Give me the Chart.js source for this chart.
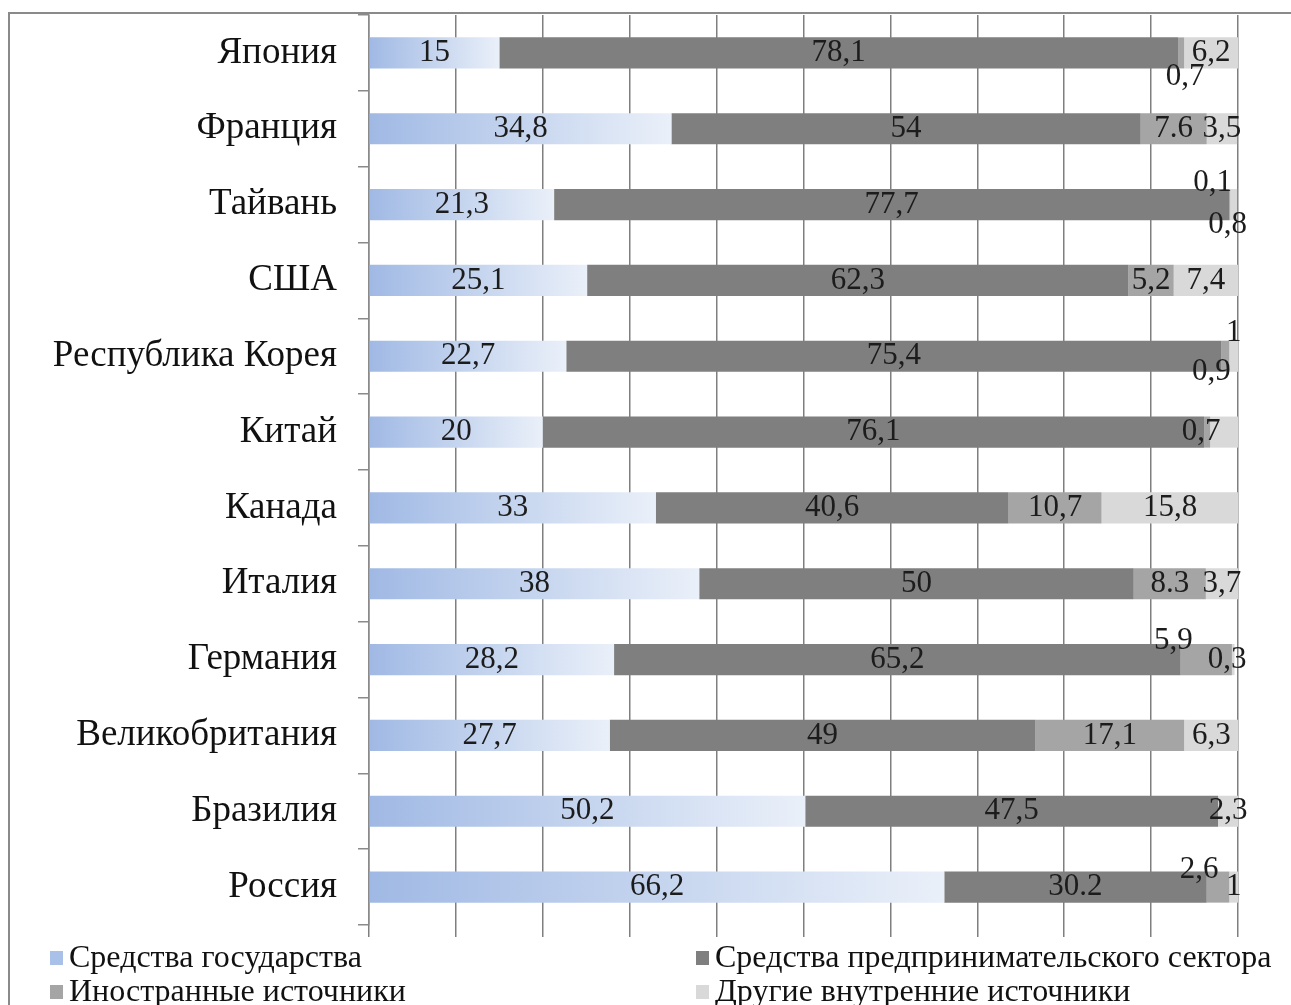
<!DOCTYPE html>
<html>
<head>
<meta charset="utf-8">
<script src="https://cdn.jsdelivr.net/npm/chart.js"></script>
<style>
  html, body { margin: 0; padding: 0; background: #fff; }
  canvas { display: block; }
</style>
</head>
<body>
<canvas id="chart" width="1291" height="1005"></canvas>
<script>
// данные, % от внутренних затрат на ИР
const categories = ["Япония", "Франция", "Тайвань", "США", "Республика Корея", "Китай",
    "Канада", "Италия", "Германия", "Великобритания", "Бразилия", "Россия"];
const govFunds = [15, 34.8, 21.3, 25.1, 22.7, 20, 33, 38, 28.2, 27.7, 50.2, 66.2];
const businessFunds = [78.1, 54, 77.7, 62.3, 75.4, 76.1, 40.6, 50, 65.2, 49, 47.5, 30.2];
const foreignFunds = [0.7, 7.6, 0.1, 5.2, 0.9, 0.7, 10.7, 8.3, 5.9, 17.1, 0, 2.6];
const otherFunds = [6.2, 3.5, 0.8, 7.4, 1, 3.2, 15.8, 3.7, 0.3, 6.3, 2.3, 1];
const seriesNames = ["Средства государства", "Средства предпринимательского сектора",
    "Иностранные источники", "Другие внутренние источники"];
const xTicks = [0, 10, 20, 30, 40, 50, 60, 70, 80, 90, 100];

const FONT = "'Liberation Serif', 'Times New Roman', serif";

// подписи, которые в оригинале сдвинуты вручную [dx, dy]
const labelNudge = {
    "2-0": [4, 24], "2-2": [-17, -22], "3-2": [-6, 20],
    "2-4": [-14, 16], "3-4": [0, -23], "2-5": [-6, 0],
    "2-8": [-33, -19], "3-8": [-6, 0], "2-11": [-19, -17]
};
const hiddenLabels = ["3-5"];
const dotLabels = ["2-1", "2-7", "1-11"];

// градиент для каждого столбика государства отдельно
function govGradient(ctx) {
    const chart = ctx.chart;
    const x = chart.scales.x;
    if (!chart.chartArea || !x || ctx.dataIndex === undefined) return "#b4c7e7";
    const x0 = x.getPixelForValue(0);
    const x1 = x.getPixelForValue(govFunds[ctx.dataIndex]);
    const g = chart.ctx.createLinearGradient(x0, 0, Math.max(x1, x0 + 1), 0);
    g.addColorStop(0, "#a0b9e4");
    g.addColorStop(1, "#eaf0f9");
    return g;
}

const legendColors = ["#a9c0e8", "#7f7f7f", "#a5a5a5", "#d9d9d9"];

const labelsPlugin = {
    id: "segLabels",
    afterDatasetsDraw(chart) {
        const c = chart.ctx;
        c.save();
        c.font = "31px " + FONT;
        c.fillStyle = "#1c1c1c";
        c.textAlign = "center";
        c.textBaseline = "middle";
        chart.data.datasets.forEach((ds, di) => {
            const meta = chart.getDatasetMeta(di);
            meta.data.forEach((bar, i) => {
                const v = ds.data[i];
                const key = di + "-" + i;
                if (!v || hiddenLabels.includes(key)) return;
                const n = labelNudge[key] || [0, 0];
                let txt = String(v);
                if (!dotLabels.includes(key)) txt = txt.replace(".", ",");
                c.fillText(txt, (bar.x + bar.base) / 2 + n[0], bar.y + n[1]);
            });
        });
        c.restore();
    }
};

const framePlugin = {
    id: "frameLegend",
    beforeDraw(chart) {
        const c = chart.ctx;
        c.save();
        c.fillStyle = "#fff";
        c.fillRect(0, 0, chart.width, chart.height);
        c.strokeStyle = "#8a8a8a";
        c.lineWidth = 2;
        c.beginPath();
        c.moveTo(chart.width + 5, 13);
        c.lineTo(9, 13);
        c.lineTo(9, chart.height + 5);
        c.stroke();
        c.restore();
    },
    afterDraw(chart) {
        const c = chart.ctx;
        c.save();
        c.font = "32px " + FONT;
        c.textBaseline = "middle";
        const cols = [50, 696];
        const rows = [958, 992];
        seriesNames.forEach((name, i) => {
            const x = cols[i % 2], y = rows[Math.floor(i / 2)];
            c.fillStyle = legendColors[i];
            c.fillRect(x, y - 7, 13, 14);
            c.fillStyle = "#111";
            c.fillText(name, x + 19, y + 1);
        });
        c.restore();
    }
};

const barCommon = { barPercentage: 0.41, categoryPercentage: 1, borderWidth: 0 };

new Chart(document.getElementById("chart"), {
    type: "bar",
    data: {
        labels: categories,
        datasets: [
            { label: seriesNames[0], data: govFunds, backgroundColor: govGradient, ...barCommon },
            { label: seriesNames[1], data: businessFunds, backgroundColor: "#7f7f7f", ...barCommon },
            { label: seriesNames[2], data: foreignFunds, backgroundColor: "#a5a5a5", ...barCommon },
            { label: seriesNames[3], data: otherFunds, backgroundColor: "#d9d9d9", ...barCommon }
        ]
    },
    options: {
        indexAxis: "y",
        responsive: false,
        devicePixelRatio: 1,
        animation: false,
        layout: { padding: { top: 15, right: 53, bottom: 68, left: 0 } },
        plugins: {
            legend: { display: false },
            tooltip: { enabled: false }
        },
        scales: {
            x: {
                stacked: true,
                min: 0,
                max: 100,
                afterBuildTicks: (s) => { s.ticks = xTicks.map(v => ({ value: v })); },
                ticks: { display: false },
                grid: { color: "#7f7f7f", lineWidth: 1.5, drawTicks: true, tickLength: 12 },
                border: { display: false }
            },
            y: {
                stacked: true,
                afterFit: (s) => { s.width = 369; s.paddingTop = 0; s.paddingBottom = 0; },
                ticks: {
                    color: "#111",
                    padding: 21,
                    font: { family: FONT, size: 37 }
                },
                grid: { drawOnChartArea: false, offset: true, color: "#8a8a8a", tickLength: 11, lineWidth: 1.5 },
                border: { display: true, color: "#8a8a8a", width: 1.5 }
            }
        }
    },
    plugins: [labelsPlugin, framePlugin]
});
</script>
</body>
</html>
